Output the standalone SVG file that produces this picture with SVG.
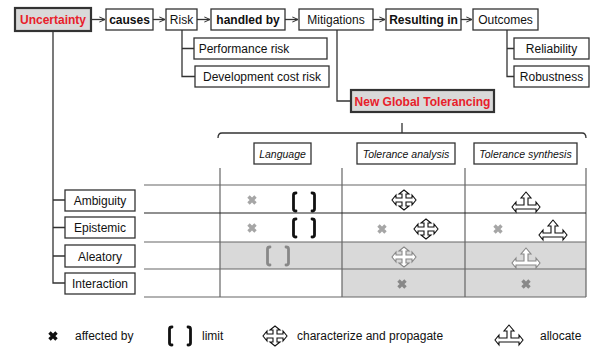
<svg xmlns="http://www.w3.org/2000/svg" width="592" height="347" viewBox="0 0 592 347">
<style>
text{font-family:"Liberation Sans",Arial,sans-serif;font-size:12px;fill:#111;text-anchor:middle}
.b{font-weight:bold}
.red{fill:#e8202a;font-weight:bold}
.it{font-style:italic;font-size:10.5px}
.box{fill:#fff;stroke:#333;stroke-width:1.3}
.hl{fill:#d9d9d9;stroke:#333;stroke-width:2.2}
.ln{fill:none;stroke:#333;stroke-width:1.3}
.grid{fill:none;stroke:#666;stroke-width:1.2}
.lg{text-anchor:start}
</style>
<defs>
<marker id="ah" viewBox="0 0 8 8" refX="7.5" refY="4" markerWidth="7" markerHeight="7" markerUnits="userSpaceOnUse" orient="auto">
<path d="M1,1 L7.5,4 L1,7" fill="none" stroke="#333" stroke-width="1.2"/>
</marker>
<path id="xm" d="M-3.5,-3.5 L3.5,3.5 M3.5,-3.5 L-3.5,3.5" stroke-width="3.4" stroke-linecap="butt"/>
<path id="br" d="M-8,-9 Q-10.5,-9 -10.5,-7 V7 Q-10.5,9 -8,9 M8,-9 Q10.5,-9 10.5,-7 V7 Q10.5,9 8,9" fill="none" stroke-width="2.8" stroke-linecap="round" stroke-linejoin="round"/>
<polygon id="cr" points="0,-10 5,-6 2,-6 2,-2 8,-2 8,-5 12,0 8,5 8,2 2,2 2,6 5,6 0,10 -5,6 -2,6 -2,2 -8,2 -8,5 -12,0 -8,-5 -8,-2 -2,-2 -2,-6 -5,-6" fill="#fff" stroke-width="1.1" stroke-linejoin="miter"/>
<polygon id="al" points="0,-10 5,-4 2,-4 2,3 10,3 10,0 14,5 10,10 10,7 -10,7 -10,10 -14,5 -10,0 -10,3 -2,3 -2,-4 -5,-4" fill="#fff" stroke-width="1.1"/>
</defs>

<g id="connectors">
<line class="ln" x1="92" y1="19.5" x2="105" y2="19.5" marker-end="url(#ah)"/>
<line class="ln" x1="153" y1="19.5" x2="165" y2="19.5" marker-end="url(#ah)"/>
<line class="ln" x1="197" y1="19.5" x2="210" y2="19.5" marker-end="url(#ah)"/>
<line class="ln" x1="285" y1="19.5" x2="298" y2="19.5" marker-end="url(#ah)"/>
<line class="ln" x1="373" y1="19.5" x2="385" y2="19.5" marker-end="url(#ah)"/>
<line class="ln" x1="461" y1="19.5" x2="472" y2="19.5" marker-end="url(#ah)"/>
<path class="ln" d="M182,30 V76.5 H195 M182,48.5 H194"/>
<path class="ln" d="M507,30 V76.5 H514 M507,48.5 H514"/>
<path class="ln" d="M337,30 V101 H351"/>
<path class="ln" d="M53,31 V283 H65 M53,200 H65 M53,227.5 H65 M53,256 H65"/>
<path class="ln" d="M218,138 Q218,133 222,133 H582 Q586,133 586,138 M402,133 V123"/>
</g>

<g id="n-uncertainty"><rect class="hl" x="15" y="8" width="76" height="23"/><text class="red" x="53" y="24">Uncertainty</text></g>
<g id="n-causes"><rect class="box" x="106" y="9" width="47" height="21"/><text class="b" x="129.5" y="24">causes</text></g>
<g id="n-risk"><rect class="box" x="166" y="9" width="31" height="21"/><text x="181.5" y="24">Risk</text></g>
<g id="n-handled"><rect class="box" x="211" y="9" width="74" height="21"/><text class="b" x="248" y="24">handled by</text></g>
<g id="n-mitigations"><rect class="box" x="299" y="9" width="74" height="21"/><text x="336" y="24">Mitigations</text></g>
<g id="n-resulting"><rect class="box" x="386" y="9" width="75" height="21"/><text class="b" x="423.5" y="24">Resulting in</text></g>
<g id="n-outcomes"><rect class="box" x="473" y="9" width="65" height="21"/><text x="505.5" y="24">Outcomes</text></g>
<g id="n-perf"><rect class="box" x="194" y="38" width="133" height="21"/><text x="244" y="53">Performance risk</text></g>
<g id="n-dev"><rect class="box" x="195" y="66" width="134" height="21"/><text x="262" y="81">Development cost risk</text></g>
<g id="n-reliability"><rect class="box" x="514" y="38" width="75" height="21"/><text x="551.5" y="53">Reliability</text></g>
<g id="n-robustness"><rect class="box" x="514" y="66" width="75" height="21"/><text x="551.5" y="81">Robustness</text></g>
<g id="n-ngt"><rect class="hl" x="351" y="90" width="143" height="22"/><text class="red" x="422.5" y="105.5">New Global Tolerancing</text></g>

<g id="n-language"><rect class="box" x="254" y="143" width="57" height="21"/><text class="it" x="282.5" y="157.5">Language</text></g>
<g id="n-ta"><rect class="box" x="357" y="143" width="98" height="21"/><text class="it" x="406" y="157.5">Tolerance analysis</text></g>
<g id="n-ts"><rect class="box" x="474" y="143" width="103" height="21"/><text class="it" x="525.5" y="157.5">Tolerance synthesis</text></g>

<g id="n-ambiguity"><rect class="box" x="65" y="190" width="70" height="21"/><text x="100" y="205">Ambiguity</text></g>
<g id="n-epistemic"><rect class="box" x="65" y="217" width="70" height="21"/><text x="100" y="232">Epistemic</text></g>
<g id="n-aleatory"><rect class="box" x="65" y="245" width="70" height="22"/><text x="100" y="260.5">Aleatory</text></g>
<g id="n-interaction"><rect class="box" x="65" y="273" width="70" height="21"/><text x="100" y="288">Interaction</text></g>

<g id="table">
<rect x="220" y="242" width="366" height="27" fill="#d9d9d9"/>
<rect x="342" y="269" width="244" height="28" fill="#d9d9d9"/>
<path class="grid" d="M144,185 H586 M144,242 H586 M144,269 H586 M144,297 H586 M220,168 V297 M342,168 V297 M465,168 V297 M586,168 V297"/>
<path fill="none" stroke="#222" stroke-width="1.2" d="M144,213 H586"/>
</g>

<g id="cells">
<use href="#xm" x="252" y="200" stroke="#a6a6a6"/>
<use href="#br" x="304" y="202" stroke="#111"/>
<use href="#xm" x="252" y="228" stroke="#a6a6a6"/>
<use href="#br" x="304" y="228" stroke="#111"/>
<use href="#br" x="278" y="256" stroke="#888"/>
<use href="#cr" x="404" y="200" stroke="#111"/>
<use href="#xm" x="382" y="229" stroke="#a6a6a6"/>
<use href="#cr" x="426" y="229" stroke="#111"/>
<use href="#cr" x="404" y="257" stroke="#888"/>
<use href="#xm" x="402" y="284" stroke="#888"/>
<use href="#al" x="526" y="202" stroke="#111"/>
<use href="#xm" x="498" y="229" stroke="#a6a6a6"/>
<use href="#al" x="553" y="230" stroke="#111"/>
<use href="#al" x="526" y="258" stroke="#888"/>
<use href="#xm" x="526" y="284" stroke="#888"/>
</g>

<g id="legend">
<use href="#xm" x="53" y="336" stroke="#111"/>
<text class="lg" x="75" y="340">affected by</text>
<use href="#br" x="180" y="336" stroke="#111"/>
<text class="lg" x="202" y="340">limit</text>
<use href="#cr" x="275" y="336" stroke="#111"/>
<text class="lg" x="297" y="340">characterize and propagate</text>
<use href="#al" x="509" y="335" stroke="#111"/>
<text class="lg" x="540" y="340">allocate</text>
</g>
</svg>
